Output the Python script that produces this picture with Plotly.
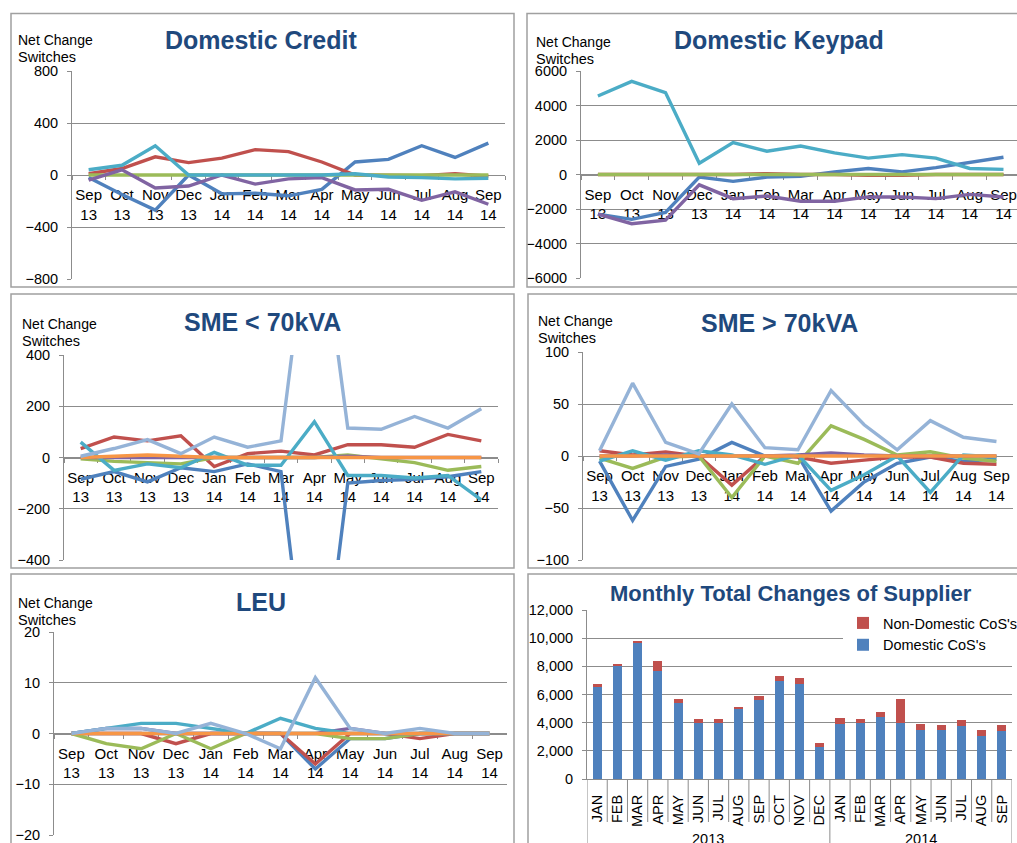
import plotly.graph_objects as go

# ---------------- data ----------------
months = ["Sep<br>13", "Oct<br>13", "Nov<br>13", "Dec<br>13", "Jan<br>14", "Feb<br>14",
          "Mar<br>14", "Apr<br>14", "May<br>14", "Jun<br>14", "Jul<br>14", "Aug<br>14", "Sep<br>14"]

# Domestic Credit
dc_blue = [-20, -150, -270, 0, -145, -140, -160, -110, 100, 120, 225, 135, 245]
dc_red = [10, 50, 140, 95, 130, 195, 180, 100, 0, -5, -5, 10, -10]
dc_green = [0, 0, 0, 0, 0, 0, 0, 0, 0, 0, 0, 0, 0]
dc_purple = [-40, 40, -100, -85, 0, -70, -30, -20, -115, -110, -195, -130, -225]
dc_cyan = [40, 75, 225, 0, 0, 0, -5, 0, 10, -15, -20, -30, -25]

# Domestic Keypad
dk_blue = [-2300, -2600, -2200, -150, -400, -150, -100, 150, 350, 150, 400, 700, 1000]
dk_red = [0, 0, 0, 0, 0, 50, 0, 0, -50, -50, 0, 0, 0]
dk_green = [0, 0, 0, 0, 0, 0, 0, 0, 0, 0, 0, 0, 0]
dk_purple = [-2300, -2850, -2650, -600, -1400, -1250, -1550, -1550, -1300, -1300, -1400, -1150, -1300]
dk_cyan = [4550, 5400, 4750, 650, 1850, 1350, 1650, 1250, 950, 1150, 950, 350, 300]

# SME < 70kVA
s1_blue = [-85, -55, -95, -40, -55, -25, -55, -1150, -100, -90, -85, -75, -55]
s1_red = [35, 80, 65, 85, -35, 15, 25, 10, 50, 50, 40, 90, 65]
s1_green = [-5, -15, -20, -25, 0, 0, 0, 0, 10, -5, -20, -50, -35]
s1_purple = [0, 0, 0, 0, 0, 0, 0, 0, 5, 0, 0, 0, 0]
s1_cyan = [60, -50, -25, -40, 20, -30, -30, 140, -70, -70, -80, -70, -165]
s1_orange = [0, 5, 10, 5, 0, 0, 0, 0, 0, 0, 0, 0, 0]
s1_light = [5, 35, 70, 15, 80, 40, 65, 1100, 115, 110, 160, 115, 190]

# SME > 70kVA
s2_blue = [-5, -62, -10, -3, 13, 0, 0, -53, -25, -7, -1, -5, -3]
s2_red = [5, 1, 4, 0, -28, 0, -1, -7, -4, -1, -1, -7, -8]
s2_green = [-2, -12, -1, 0, -40, 0, -7, 29, 16, 1, 4, -2, -5]
s2_purple = [0, 0, 1, 0, 0, 0, 1, 3, 1, 0, 0, 0, 0]
s2_cyan = [-5, 5, -4, 5, 1, -8, 1, -33, -18, 0, -35, 1, -1]
s2_orange = [0, 0, 0, 0, 0, 0, 0, 0, 0, 0, 0, 0, 0]
s2_light = [5, 70, 13, 2, 50, 8, 6, 63, 30, 6, 34, 18, 14]

# LEU
l_blue = [0, 0, 0, 0, 0, 0, 0, -7, -1, -1, 0, 0, 0]
l_red = [0, 0, 0, -2, 0, 0, 0, -6, 0, 0, -1, 0, 0]
l_green = [0, -2, -3, 0, -3, 0, 0, 0, -1, -1, 0, 0, 0]
l_purple = [0, 1, 1, 0, 0, 0, 0, 0, 1, 0, 0, 0, 0]
l_cyan = [0, 1, 2, 2, 1, 0, 3, 1, 0, 0, 0, 0, 0]
l_orange = [0, 0, 0, 0, 0, 0, 0, 0, 0, 0, 0, 0, 0]
l_light = [0, 1, 1, 0, 2, 0, -3, 11, 1, 0, 1, 0, 0]

# Monthly total changes of supplier
bar_months = ["JAN", "FEB", "MAR", "APR", "MAY", "JUN", "JUL", "AUG", "SEP", "OCT", "NOV", "DEC",
              "JAN", "FEB", "MAR", "APR", "MAY", "JUN", "JUL", "AUG", "SEP"]
bar_years = ["2013", "2014"]
bar_year_counts = [12, 9]
domestic = [6560, 8030, 9630, 7670, 5430, 3960, 3960, 4960, 5620, 6990, 6730, 2270,
            3920, 3960, 4410, 3960, 3470, 3470, 3730, 3040, 3400]
nondomestic = [170, 140, 190, 710, 280, 290, 290, 160, 260, 330, 420, 280,
               420, 290, 360, 1750, 450, 350, 450, 450, 420]

# ---------------- styling ----------------
W, H = 1017, 843
FONT = "Liberation Sans, Arial, sans-serif"
C_BLUE, C_RED, C_GREEN, C_PURPLE, C_CYAN, C_ORANGE, C_LIGHT = (
    "#4F81BD", "#C0504D", "#9BBB59", "#8064A2", "#4BACC6", "#F79646", "#95B3D7")
GRID = "#8C8C8C"
BORDER = "#A0A0A0"
TITLE_C = "#1F497D"


def fx(v):
    return v / W


def fy(v):
    return 1 - v / H


panels = [
    dict(title="Domestic Credit", box=(11, 13.5, 514, 287), plot=(72, 71, 505, 279), yr=800, dt=400,
         xend=12.5, tpos=(261, 40), ypos=(16, 40),
         series=[(dc_blue, C_BLUE), (dc_red, C_RED), (dc_green, C_GREEN), (dc_purple, C_PURPLE), (dc_cyan, C_CYAN)]),
    dict(title="Domestic Keypad", box=(527, 13.5, 1030, 287), plot=(581, 71, 1017, 278), yr=6000, dt=2000,
         xend=12.4, tpos=(779, 40), ypos=(534, 42),
         series=[(dk_blue, C_BLUE), (dk_red, C_RED), (dk_green, C_GREEN), (dk_purple, C_PURPLE), (dk_cyan, C_CYAN)]),
    dict(title="SME < 70kVA", box=(11, 294, 514, 568), plot=(64, 355, 498, 560), yr=400, dt=200,
         xend=12.5, tpos=(262, 322), ypos=(20, 324),
         series=[(s1_blue, C_BLUE), (s1_red, C_RED), (s1_green, C_GREEN), (s1_purple, C_PURPLE),
                 (s1_cyan, C_CYAN), (s1_orange, C_ORANGE), (s1_light, C_LIGHT)]),
    dict(title="SME > 70kVA", box=(528, 294, 1030, 568), plot=(583, 352, 1013, 560), yr=100, dt=50,
         xend=12.5, tpos=(779, 323), ypos=(536, 321),
         series=[(s2_blue, C_BLUE), (s2_red, C_RED), (s2_green, C_GREEN), (s2_purple, C_PURPLE),
                 (s2_cyan, C_CYAN), (s2_orange, C_ORANGE), (s2_light, C_LIGHT)]),
    dict(title="LEU", box=(11, 574, 514, 870), plot=(54, 632, 507, 835), yr=20, dt=10,
         xend=12.5, tpos=(261, 602), ypos=(16, 603),
         series=[(l_blue, C_BLUE), (l_red, C_RED), (l_green, C_GREEN), (l_purple, C_PURPLE),
                 (l_cyan, C_CYAN), (l_orange, C_ORANGE), (l_light, C_LIGHT)]),
]

fig = go.Figure()
layout = dict(
    width=W, height=H, margin=dict(l=0, r=0, t=0, b=0, pad=0, autoexpand=False),
    paper_bgcolor="white", plot_bgcolor="white",
    font=dict(family=FONT, color="black", size=14),
    barmode="stack", bargap=0.55,
    showlegend=True,
)
shapes = []
annotations = []

for i, p in enumerate(panels, start=1):
    sx = "" if i == 1 else str(i)
    for vals, col in p["series"]:
        fig.add_trace(go.Scatter(x=months, y=vals, mode="lines", line=dict(color=col, width=3.4),
                                 xaxis="x" + sx, yaxis="y" + sx, showlegend=False, hoverinfo="skip"))
    l, t, r, b = p["plot"]
    ydom = [fy(b), fy(t)]
    layout["xaxis" + sx] = dict(
        domain=[fx(l), min(fx(r), 1.0)], anchor="free", position=(ydom[0] + ydom[1]) / 2,
        type="category", range=[-0.5, p["xend"]], tickson="boundaries", automargin=False,
        ticks="outside", ticklen=4, tickcolor=GRID, showline=True, linecolor=GRID, linewidth=1,
        showgrid=False, zeroline=False, layer="below traces", tickangle=0, ticklabeloverflow="allow",
        tickfont=dict(size=15, family=FONT), ticklabelstandoff=6, fixedrange=True)
    layout["yaxis" + sx] = dict(
        domain=ydom, anchor="x" + sx, range=[-p["yr"], p["yr"]], dtick=p["dt"], tick0=0, automargin=False,
        showline=True, linecolor=GRID, linewidth=1, ticks="outside", ticklen=4, tickcolor=GRID,
        showgrid=True, gridcolor=GRID, gridwidth=1, zeroline=False, ticklabeloverflow="allow",
        tickfont=dict(size=14.5, family=FONT), ticklabelstandoff=6, fixedrange=True)
    bx0, by0, bx1, by1 = p["box"]
    shapes.append(dict(type="rect", xref="paper", yref="paper", x0=fx(bx0), x1=fx(bx1), y0=fy(by1), y1=fy(by0),
                       line=dict(color=BORDER, width=1.5), fillcolor="rgba(0,0,0,0)", layer="above"))
    annotations.append(dict(text="<b>%s</b>" % p["title"].replace("<", "&lt;").replace(">", "&gt;"),
                            xref="paper", yref="paper", x=fx(p["tpos"][0]), y=fy(p["tpos"][1]),
                            xanchor="center", yanchor="middle", showarrow=False,
                            font=dict(size=25, color=TITLE_C, family=FONT)))
    yx, yy = p["ypos"]
    annotations.append(dict(text="Net Change", xref="paper", yref="paper", x=fx(yx), y=fy(yy),
                            xanchor="left", yanchor="middle", showarrow=False, font=dict(size=14, family=FONT)))
    annotations.append(dict(text="Switches", xref="paper", yref="paper", x=fx(yx), y=fy(yy + 17),
                            xanchor="left", yanchor="middle", showarrow=False, font=dict(size=14.5, family=FONT)))

# ---------------- bar panel ----------------
idx = list(range(len(bar_months)))
fig.add_trace(go.Bar(x=idx, y=domestic, name="Domestic CoS's", marker=dict(color=C_BLUE, line=dict(width=0)),
                     xaxis="x6", yaxis="y6", hoverinfo="skip"))
fig.add_trace(go.Bar(x=idx, y=nondomestic, name="Non-Domestic CoS's", marker=dict(color=C_RED, line=dict(width=0)),
                     xaxis="x6", yaxis="y6", hoverinfo="skip"))

bl, bt, br, bb = 587, 610, 1012, 779
layout["xaxis6"] = dict(domain=[fx(bl), fx(br)], anchor="y6", range=[-0.5, len(bar_months) - 0.5],
                        tickmode="array", tickvals=idx, ticktext=bar_months, tickangle=-90, automargin=False,
                        ticks="", showline=True, linecolor=GRID, linewidth=1, showgrid=False, zeroline=False,
                        ticklabeloverflow="allow",
                        tickfont=dict(size=14.5, family=FONT), ticklabelstandoff=9, fixedrange=True)
layout["yaxis6"] = dict(domain=[fy(bb), fy(bt)], anchor="x6", range=[0, 12000], dtick=2000, tickformat=",",
                        showline=True, linecolor=GRID, linewidth=1, ticks="outside", ticklen=4, tickcolor=GRID,
                        showgrid=True, gridcolor=GRID, zeroline=False, automargin=False, ticklabeloverflow="allow",
                        tickfont=dict(size=14.5, family=FONT), ticklabelstandoff=6, fixedrange=True)

# category separators and year groups
year_bounds = [-0.5]
for c in bar_year_counts:
    year_bounds.append(year_bounds[-1] + c)
for k in range(len(bar_months) + 1):
    xb = k - 0.5
    long_line = xb in year_bounds
    shapes.append(dict(type="line", xref="x6", yref="paper", x0=xb, x1=xb, y0=fy(bb),
                       y1=(fy(870) if long_line else fy(822)), line=dict(color=GRID, width=1)))
for yi, yname in enumerate(bar_years):
    annotations.append(dict(text=yname, xref="x6", yref="paper",
                            x=(year_bounds[yi] + year_bounds[yi + 1]) / 2, y=fy(839),
                            xanchor="center", yanchor="middle", showarrow=False,
                            font=dict(size=14.5, family=FONT)))

shapes.append(dict(type="rect", xref="paper", yref="paper", x0=fx(528), x1=fx(1030), y0=fy(870), y1=fy(574),
                   line=dict(color=BORDER, width=1.5), fillcolor="rgba(0,0,0,0)", layer="above"))
annotations.append(dict(text="<b>Monthly Total Changes of Supplier</b>", xref="paper", yref="paper",
                        x=fx(791), y=fy(593), xanchor="center", yanchor="middle", showarrow=False,
                        font=dict(size=22, color=TITLE_C, family=FONT)))

layout["legend"] = dict(x=fx(843), y=fy(607), xanchor="left", yanchor="top", bgcolor="white",
                        font=dict(size=14.5, family=FONT), traceorder="reversed", itemwidth=30,
                        tracegroupgap=0, borderwidth=0)
layout["shapes"] = shapes
layout["annotations"] = annotations
fig.update_layout(**layout)

fig.write_html("out.html", config={"displayModeBar": False},
               post_script="document.body.style.margin='0px';document.body.style.overflow='hidden';")
